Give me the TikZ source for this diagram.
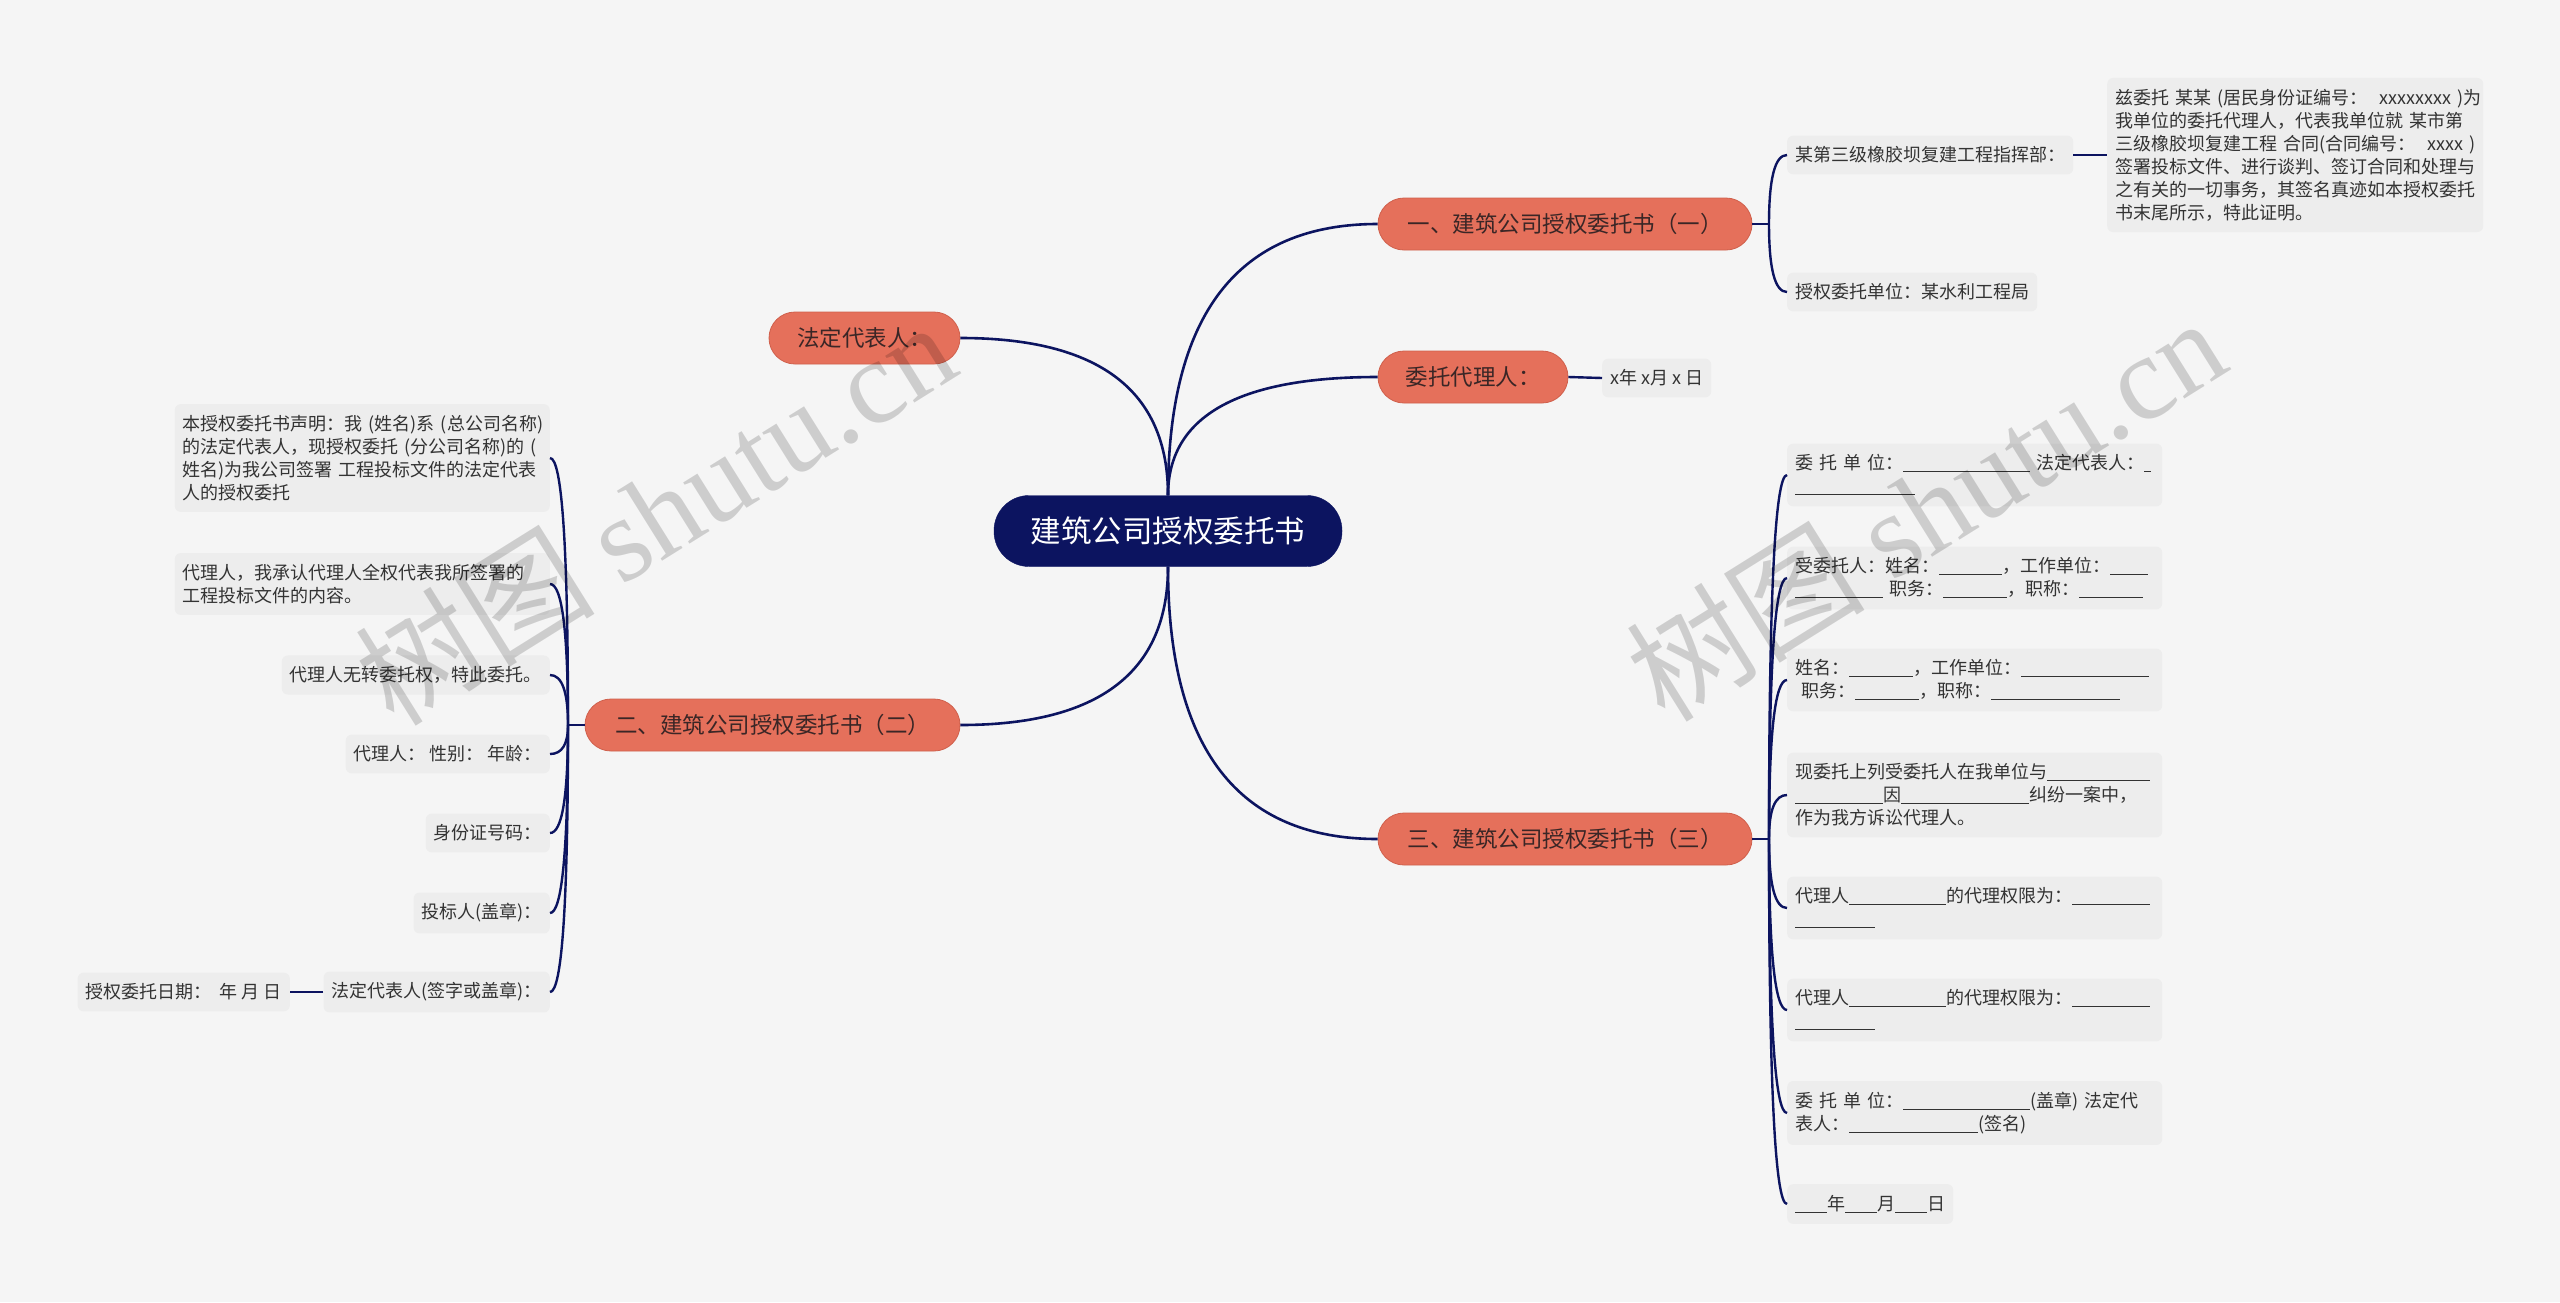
\documentclass[tikz,border=0pt]{standalone}
\usepackage{fontspec}
\setmainfont{Noto Sans CJK SC}
\newfontfamily\wmfont{Liberation Serif}
\usetikzlibrary{calc}
\definecolor{bgc}{HTML}{F5F5F5}
\definecolor{navy}{HTML}{0C1460}
\definecolor{salmon}{HTML}{E5705B}
\definecolor{salmonline}{HTML}{CF5F4B}
\definecolor{leaffill}{HTML}{EDEDED}
\definecolor{leaftext}{HTML}{333333}
\definecolor{btext}{HTML}{3A2626}
\newcommand\bl[1]{\rule[-2.5pt]{#1pt}{1.2pt}}
\begin{document}
\begin{tikzpicture}[x=1pt,y=-1pt,
  rootnode/.style={draw=navy, fill=navy, text=white, rounded corners=35pt, minimum width=348pt, minimum height=71pt, inner sep=0pt, font=\fontsize{30.5}{36}\selectfont},
  branch/.style={draw=salmonline, line width=0.8pt, fill=salmon, text=btext, rounded corners=26pt, minimum height=52pt, inner sep=0pt, font=\fontsize{22.5}{26}\selectfont},
  leaf/.style={fill=leaffill, text=leaftext, rounded corners=6pt, inner xsep=8pt, inner ysep=11pt, font=\fontsize{18}{23}\selectfont, align=left},
  wide/.style={leaf, text width=359pt},
  mainconn/.style={draw=navy, line width=2.6pt},
  conn/.style={draw=navy, line width=2.4pt},
  wm/.style={text=black, opacity=0.16, font=\fontsize{120}{124}\selectfont, inner sep=0pt}
]
\useasboundingbox (0,0) rectangle (2560,1302);
\fill[bgc] (0,0) rectangle (2560,1302);

% root and branches
\node[rootnode] (root) at (1168,531) {建筑公司授权委托书};
\node[branch, minimum width=374pt] (b1) at (1565,224) {一、建筑公司授权委托书（一）};
\node[branch, minimum width=190pt] (b2) at (1473,377) {委托代理人：};
\node[branch, minimum width=374pt] (b3) at (1565,839) {三、建筑公司授权委托书（三）};
\node[branch, minimum width=191pt] (b4) at (864.5,338) {法定代表人：};
\node[branch, minimum width=375pt] (b5) at (772.5,725) {二、建筑公司授权委托书（二）};

% branch 1 leaves
\node[leaf, anchor=west] (l11) at (1787,155) {某第三级橡胶坝复建工程指挥部：};
\node[leaf, anchor=west] (l12) at (1787,292) {授权委托单位：某水利工程局};
\node[wide, anchor=west, text width=360pt] (l111) at (2107,155) {兹委托~某某~(居民身份证编号：~~xxxxxxxx~)为\\我单位的委托代理人，代表我单位就~某市第\\三级橡胶坝复建工程~合同(合同编号：~~xxxx~)\\签署投标文件、进行谈判、签订合同和处理与\\之有关的一切事务，其签名真迹如本授权委托\\书末尾所示，特此证明。};

% branch 2 leaf
\node[leaf, anchor=west] (l21) at (1602,378) {x年~x月~x~日};

% branch 3 leaves
\node[wide, anchor=west] (c1) at (1787,475) {委~托~单~位：\bl{127}~法定代表人：\bl{7}\\\bl{120}};
\node[wide, anchor=west] (c2) at (1787,578) {受委托人：姓名：\bl{63}，工作单位：\bl{38}\\\bl{88}~职务：\bl{64}，职称：\bl{64}};
\node[wide, anchor=west] (c3) at (1787,680) {姓名：\bl{64}，工作单位：\bl{128}\\~职务：\bl{64}，职称：\bl{129}};
\node[wide, anchor=west] (c4) at (1787,795) {现委托上列受委托人在我单位与\bl{103}\\\bl{88}因\bl{128}纠纷一案中，\\作为我方诉讼代理人。};
\node[wide, anchor=west] (c5) at (1787,908) {代理人\bl{97}的代理权限为：\bl{78}\\\bl{80}};
\node[wide, anchor=west] (c6) at (1787,1010) {代理人\bl{97}的代理权限为：\bl{78}\\\bl{80}};
\node[wide, anchor=west] (c7) at (1787,1113) {委~托~单~位：\bl{127}(盖章)~法定代\\表人：\bl{129}(签名)};
\node[leaf, anchor=west] (c8) at (1787,1204) {\bl{32}年\bl{32}月\bl{32}日};

% branch 5 leaves
\node[wide, anchor=east] (d1) at (550,458) {本授权委托书声明：我~(姓名)系~(总公司名称)\\的法定代表人，现授权委托~(分公司名称)的~(\\姓名)为我公司签署~工程投标文件的法定代表\\人的授权委托};
\node[wide, anchor=east] (d2) at (550,584) {代理人，我承认代理人全权代表我所签署的\\工程投标文件的内容。};
\node[leaf, anchor=east] (d3) at (550,675) {代理人无转委托权，特此委托。};
\node[leaf, anchor=east] (d4) at (550,754) {代理人：~性别：~年龄：};
\node[leaf, anchor=east] (d5) at (550,833) {身份证号码：};
\node[leaf, anchor=east] (d6) at (550,913) {投标人(盖章)：};
\node[leaf, anchor=east] (d7) at (550,992) {法定代表人(签字或盖章)：};
\node[leaf, anchor=east] (d71) at (290,992) {授权委托日期：~~年~月~日};

% main connectors
\foreach \n in {b1,b2}
  \draw[mainconn] (root.north) .. controls ($(root.north)!0.667!(root.north|-\n.west)$) and ($(\n.west)!0.667!(root.north|-\n.west)$) .. (\n.west);
\draw[mainconn] (root.north) .. controls ($(root.north)!0.667!(root.north|-b4.east)$) and ($(b4.east)!0.667!(root.north|-b4.east)$) .. (b4.east);
\draw[mainconn] (root.south) .. controls ($(root.south)!0.667!(root.south|-b3.west)$) and ($(b3.west)!0.667!(root.south|-b3.west)$) .. (b3.west);
\draw[mainconn] (root.south) .. controls ($(root.south)!0.667!(root.south|-b5.east)$) and ($(b5.east)!0.667!(root.south|-b5.east)$) .. (b5.east);

% branch connectors
\coordinate (f1) at (1769,224);
\draw[conn] (b1.east) -- (f1);
\foreach \n in {l11,l12}
  \draw[conn] (f1) .. controls ($(f1)!0.667!(f1|-\n.west)$) and ($(\n.west)!0.667!(f1|-\n.west)$) .. (\n.west);
\draw[conn] (l11.east) -- (l111.west);
\draw[conn] (b2.east) -- (l21.west);

\coordinate (f3) at (1769,839);
\draw[conn] (b3.east) -- (f3);
\foreach \n in {c1,c2,c3,c4,c5,c6,c7,c8}
  \draw[conn] (f3) .. controls ($(f3)!0.667!(f3|-\n.west)$) and ($(\n.west)!0.667!(f3|-\n.west)$) .. (\n.west);

\coordinate (f5) at (568,725);
\draw[conn] (b5.west) -- (f5);
\foreach \n in {d1,d2,d3,d4,d5,d6,d7}
  \draw[conn] (f5) .. controls ($(f5)!0.667!(f5|-\n.east)$) and ($(\n.east)!0.667!(f5|-\n.east)$) .. (\n.east);
\draw[conn] (d7.west) -- (d71.east);

% watermarks
\node[wm, rotate=32] (wm1) at (655,512) {树图~{\wmfont shutu.cn}};
\node[wm, rotate=32] (wm2) at (1925,508) {树图~{\wmfont shutu.cn}};
\end{tikzpicture}
\end{document}
